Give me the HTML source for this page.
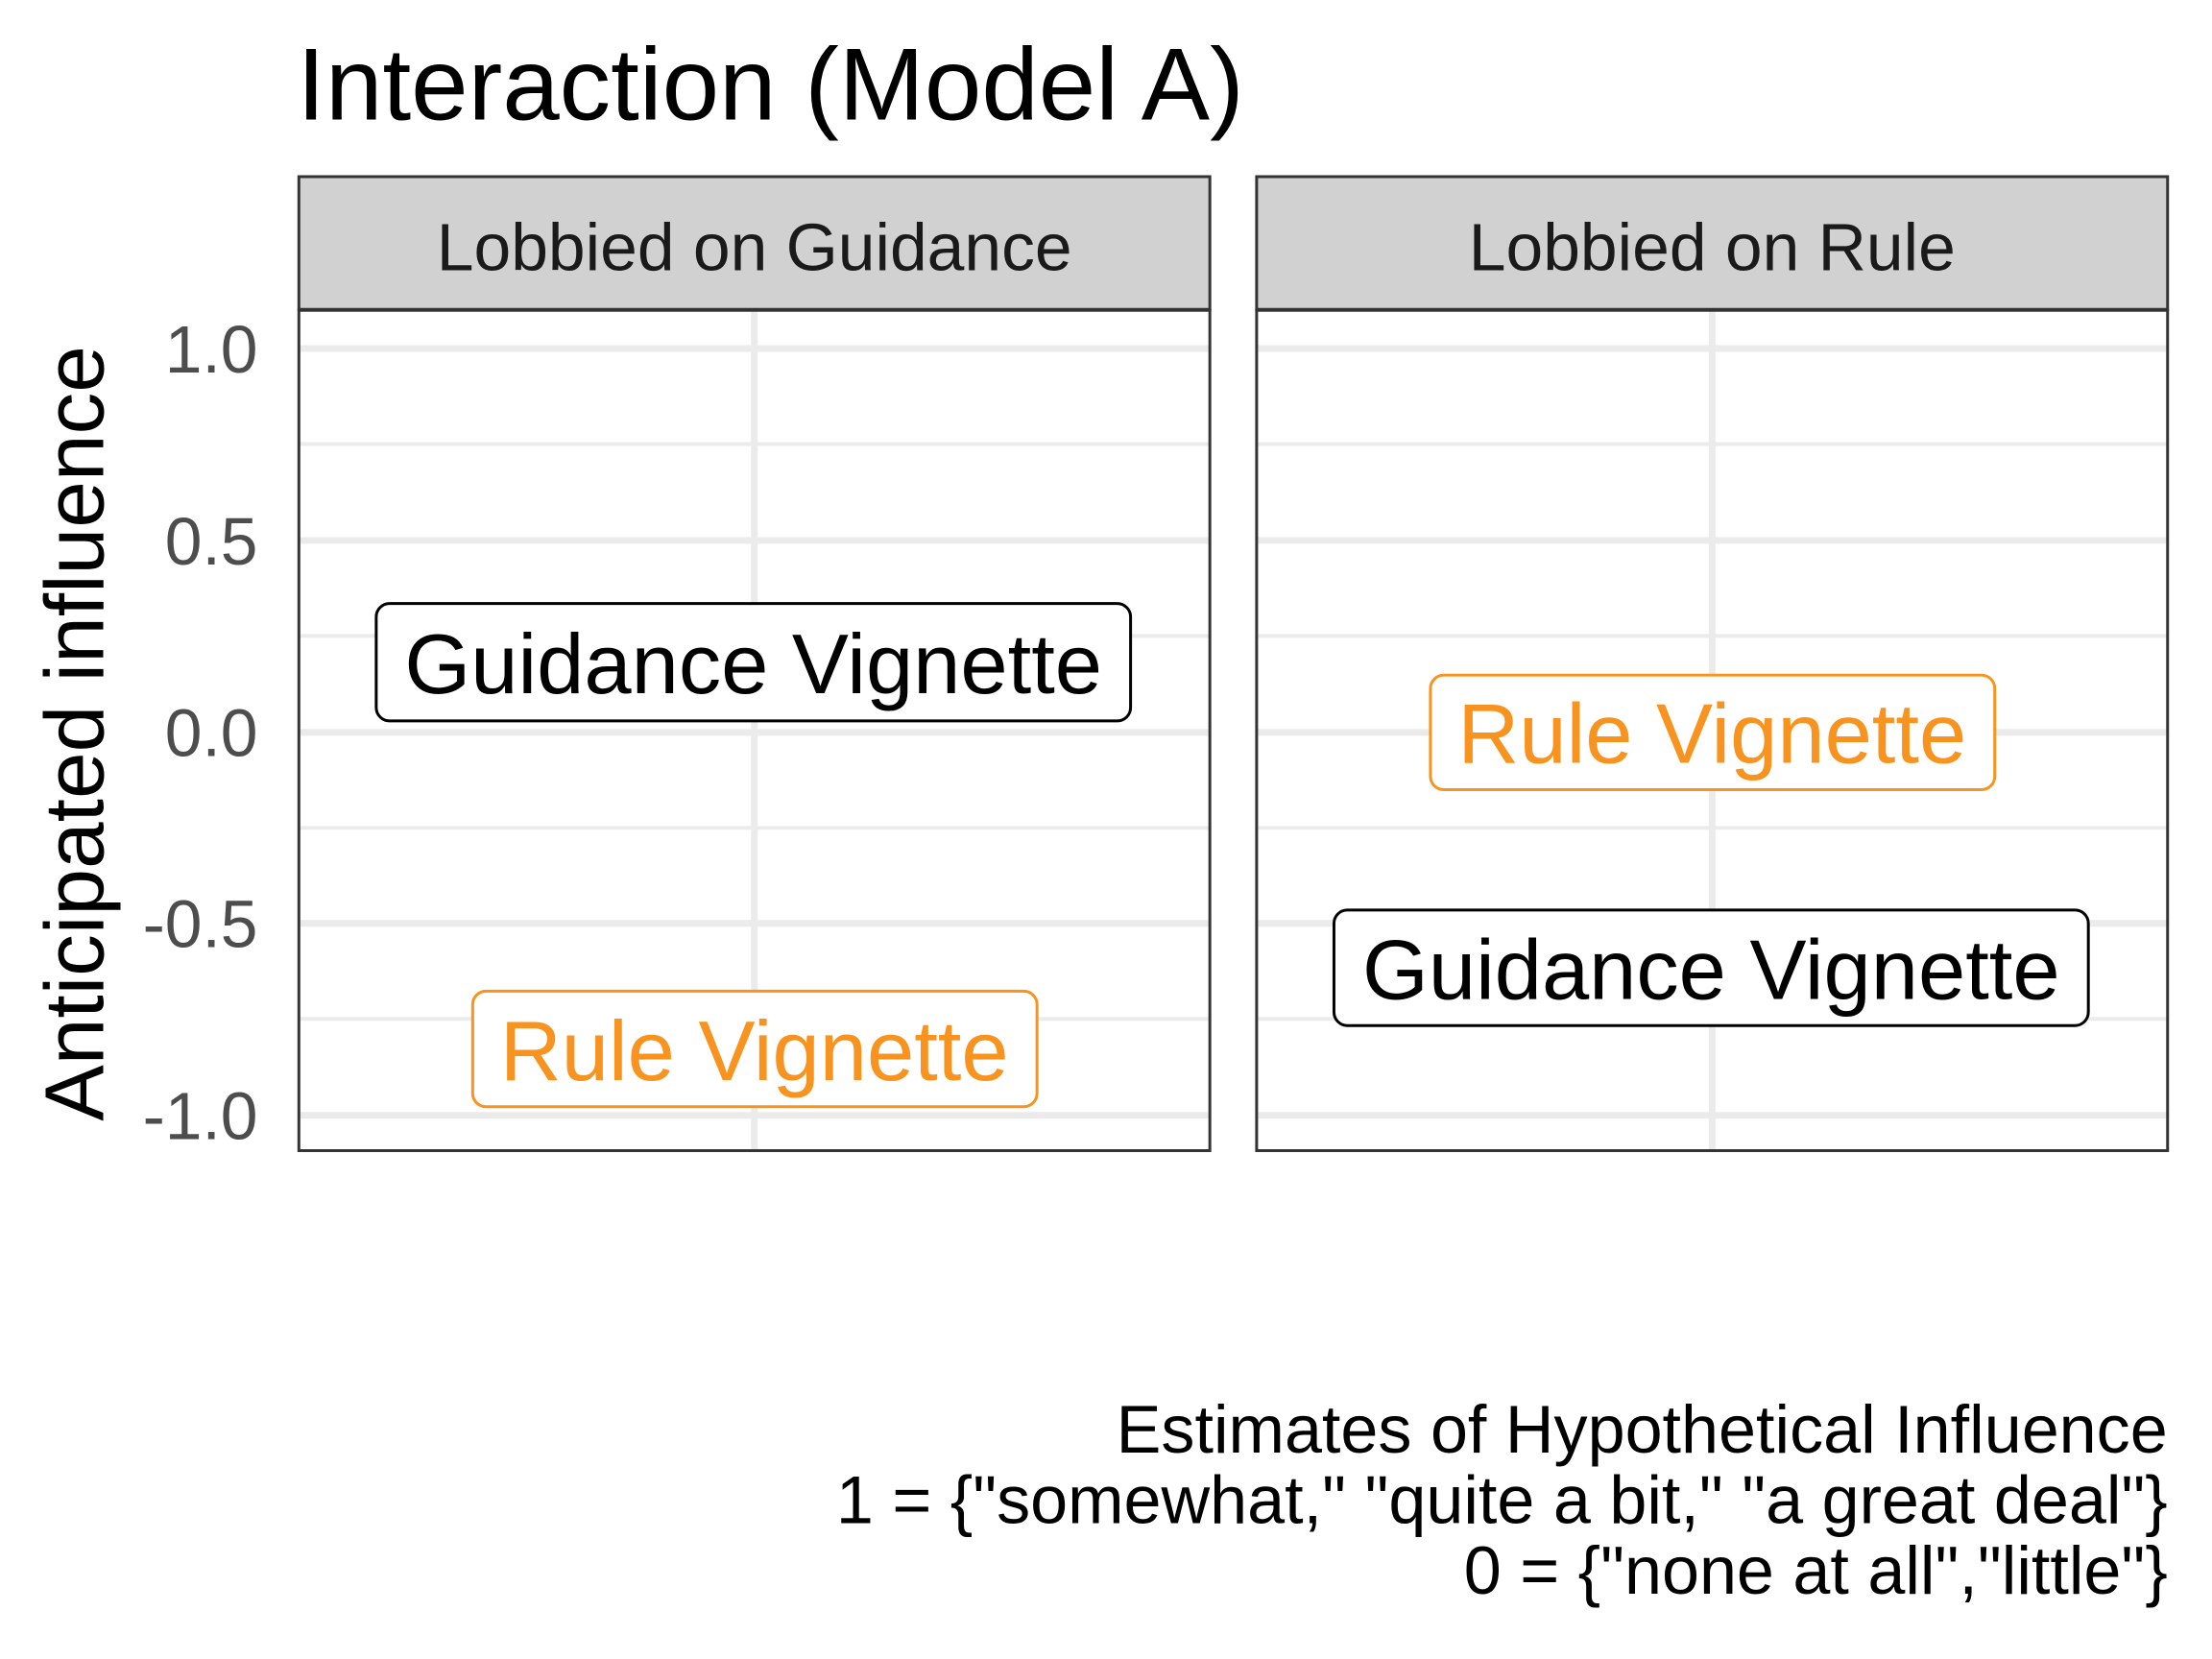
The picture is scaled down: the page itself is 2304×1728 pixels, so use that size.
<!DOCTYPE html>
<html><head><meta charset="utf-8"><style>
html,body{margin:0;padding:0;background:#fff;}
svg{display:block;}
text{font-family:"Liberation Sans",Arial,sans-serif;}
</style></head><body>
<svg width="2304" height="1728" viewBox="0 0 2304 1728" xmlns="http://www.w3.org/2000/svg">
<rect width="2304" height="1728" fill="#fff"/>
<g transform="scale(0.9946)">
<text x="311" y="125" font-size="107.5" fill="#000">Interaction (Model A)</text>

<!-- Panel 1 -->
<g>
<rect x="313" y="325" width="954" height="880" fill="#fff"/>
<g stroke="#ebebeb" stroke-width="4">
<line x1="313" x2="1267" y1="465" y2="465"/>
<line x1="313" x2="1267" y1="666" y2="666"/>
<line x1="313" x2="1267" y1="867" y2="867"/>
<line x1="313" x2="1267" y1="1067" y2="1067"/>
</g>
<g stroke="#ebebeb" stroke-width="7">
<line x1="313" x2="1267" y1="365" y2="365"/>
<line x1="313" x2="1267" y1="566" y2="566"/>
<line x1="313" x2="1267" y1="767" y2="767"/>
<line x1="313" x2="1267" y1="967" y2="967"/>
<line x1="313" x2="1267" y1="1168" y2="1168"/>
<line x1="790" x2="790" y1="325" y2="1205"/>
</g>
<rect x="313" y="325" width="954" height="880" fill="none" stroke="#333" stroke-width="3"/>
<rect x="313" y="185" width="954" height="139" fill="#d1d1d1" stroke="#333" stroke-width="3"/>
<text x="790" y="283" font-size="70" fill="#1a1a1a" text-anchor="middle">Lobbied on Guidance</text>
<rect x="394" y="632" width="790" height="123" rx="14" fill="#fff" stroke="#000" stroke-width="3"/>
<text x="789" y="726" font-size="89" fill="#000" text-anchor="middle">Guidance Vignette</text>
<rect x="495" y="1038" width="591" height="121" rx="14" fill="#fff" stroke="#f7931e" stroke-width="3"/>
<text x="790" y="1131" font-size="89" fill="#f7931e" text-anchor="middle">Rule Vignette</text>
</g>

<!-- Panel 2 -->
<g>
<rect x="1316" y="325" width="954" height="880" fill="#fff"/>
<g stroke="#ebebeb" stroke-width="4">
<line x1="1316" x2="2270" y1="465" y2="465"/>
<line x1="1316" x2="2270" y1="666" y2="666"/>
<line x1="1316" x2="2270" y1="867" y2="867"/>
<line x1="1316" x2="2270" y1="1067" y2="1067"/>
</g>
<g stroke="#ebebeb" stroke-width="7">
<line x1="1316" x2="2270" y1="365" y2="365"/>
<line x1="1316" x2="2270" y1="566" y2="566"/>
<line x1="1316" x2="2270" y1="767" y2="767"/>
<line x1="1316" x2="2270" y1="967" y2="967"/>
<line x1="1316" x2="2270" y1="1168" y2="1168"/>
<line x1="1793" x2="1793" y1="325" y2="1205"/>
</g>
<rect x="1316" y="325" width="954" height="880" fill="none" stroke="#333" stroke-width="3"/>
<rect x="1316" y="185" width="954" height="139" fill="#d1d1d1" stroke="#333" stroke-width="3"/>
<text x="1793" y="283" font-size="70" fill="#1a1a1a" text-anchor="middle">Lobbied on Rule</text>
<rect x="1498" y="707" width="591" height="120" rx="14" fill="#fff" stroke="#f7931e" stroke-width="3"/>
<text x="1793" y="799" font-size="89" fill="#f7931e" text-anchor="middle">Rule Vignette</text>
<rect x="1397" y="953" width="790" height="121" rx="14" fill="#fff" stroke="#000" stroke-width="3"/>
<text x="1792" y="1046" font-size="89" fill="#000" text-anchor="middle">Guidance Vignette</text>
</g>

<!-- Y ticks -->
<g font-size="70" fill="#4d4d4d" text-anchor="end">
<text x="270" y="390">1.0</text>
<text x="270" y="591">0.5</text>
<text x="270" y="792">0.0</text>
<text x="270" y="992">-0.5</text>
<text x="270" y="1193">-1.0</text>
</g>
<text transform="translate(108,768) rotate(-90)" font-size="88" fill="#000" text-anchor="middle">Anticipated influence</text>

<!-- Caption -->
<g font-size="70.5" fill="#000" text-anchor="end">
<text x="2270" y="1521">Estimates of Hypothetical Influence</text>
<text x="2270" y="1595">1 = {"somewhat," "quite a bit," "a great deal"}</text>
<text x="2270" y="1669">0 = {"none at all","little"}</text>
</g>
</g>
</svg>
</body></html>
